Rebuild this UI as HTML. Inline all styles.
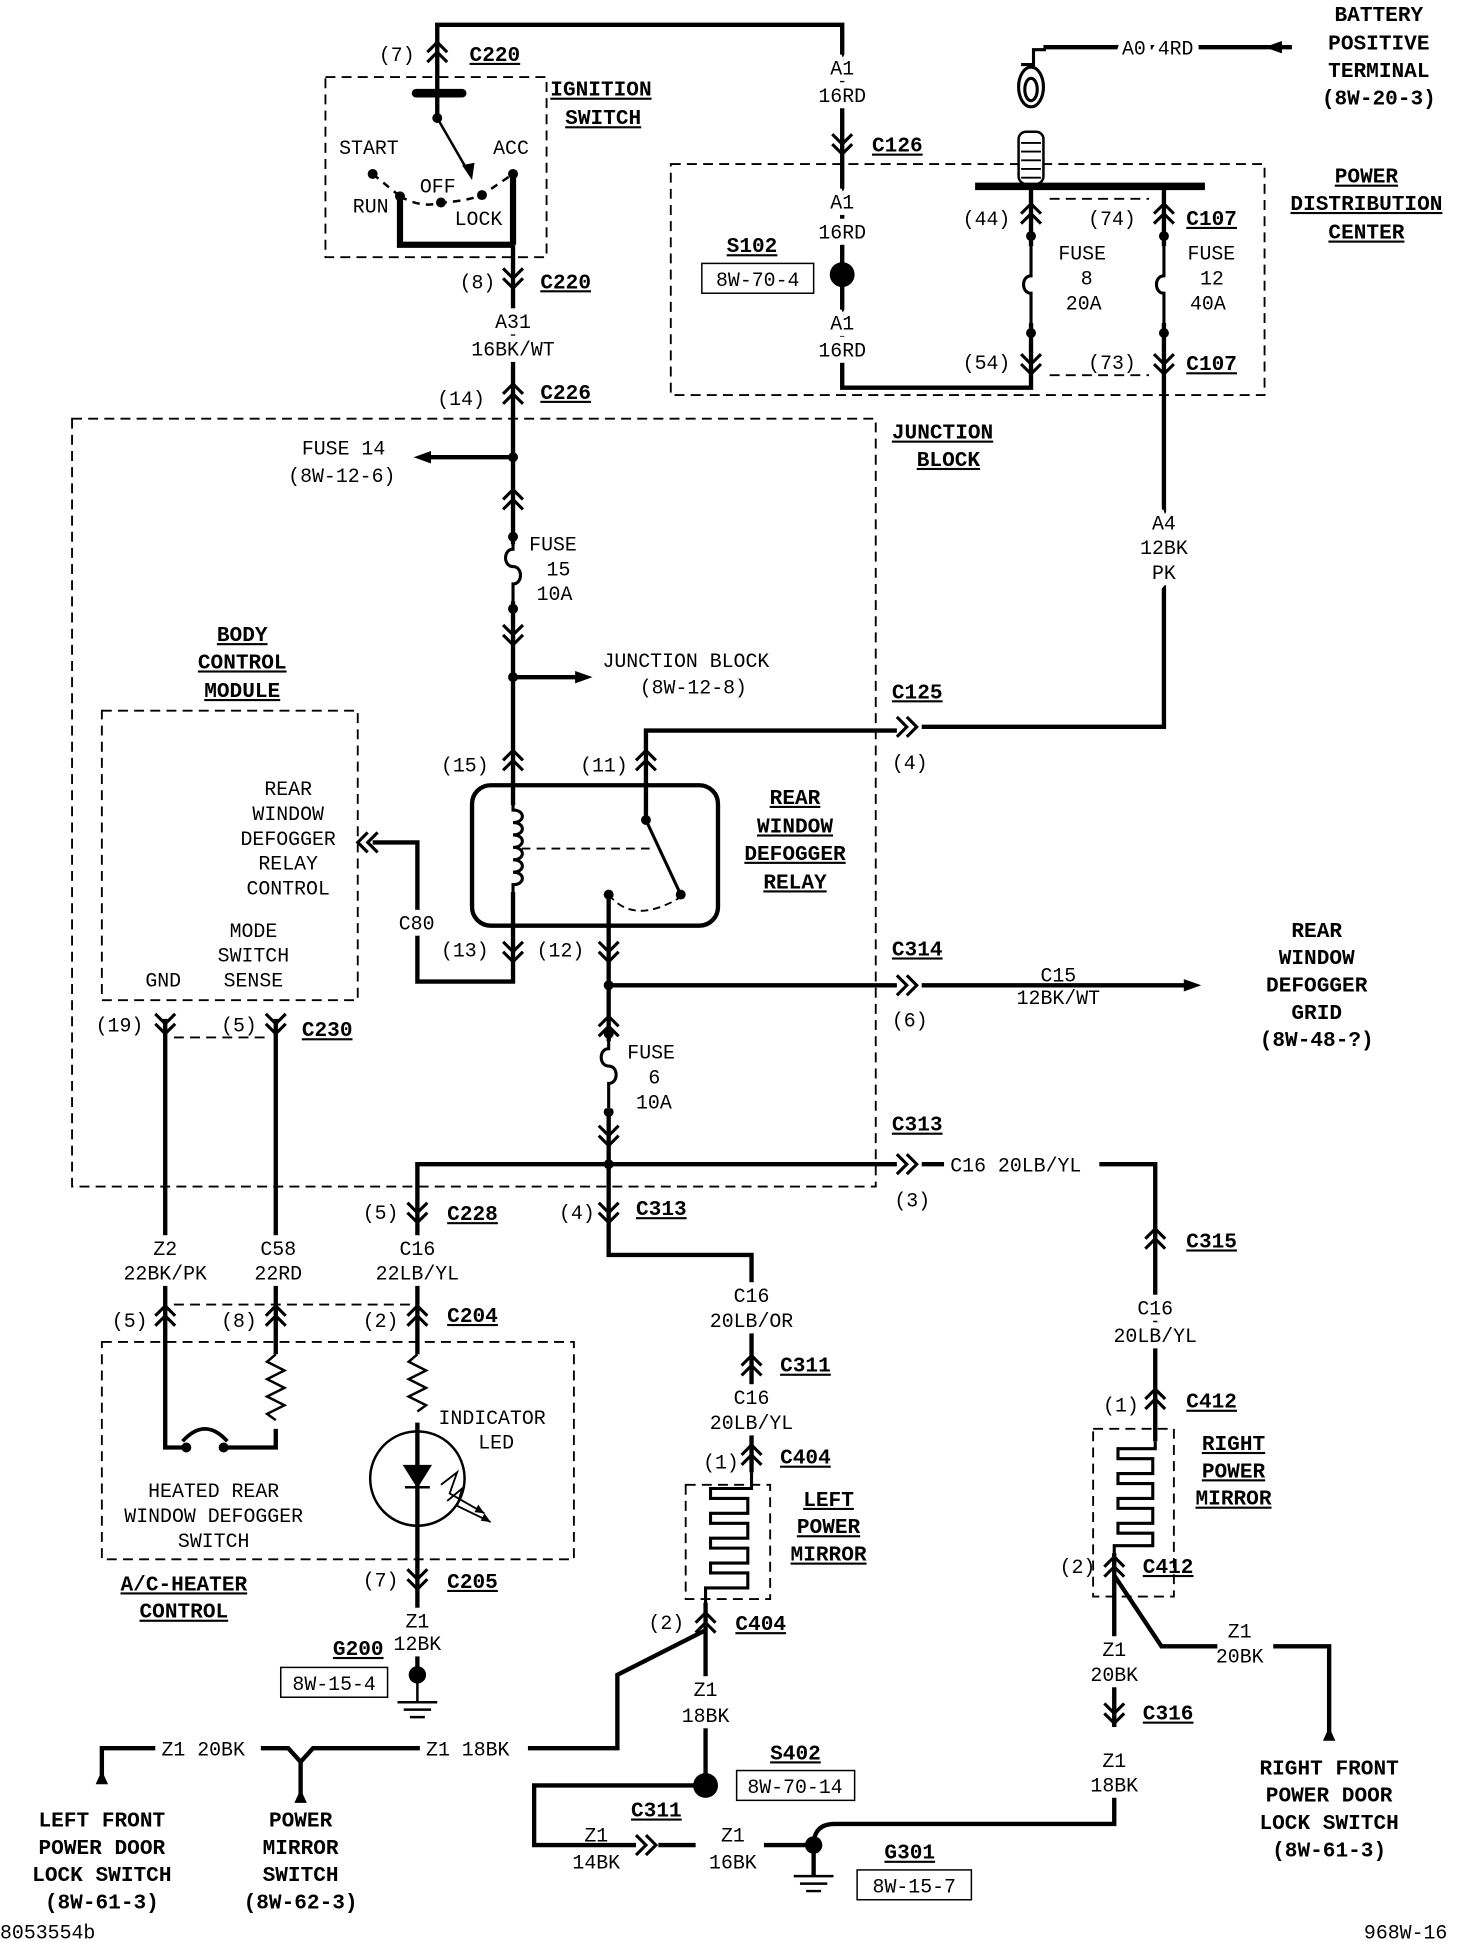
<!DOCTYPE html>
<html><head><meta charset="utf-8"><style>
html,body{margin:0;padding:0;background:#fff}
svg{display:block}
text{font-family:"Liberation Mono",monospace;font-size:16px;fill:#000}
.b{font-weight:bold;font-size:17px;text-decoration:underline}
.bb{font-weight:bold;font-size:17px}
.c{text-anchor:middle}
.h{paint-order:stroke;stroke:#fff;stroke-width:10px}
.w{fill:none;stroke:#000;stroke-width:3.5;stroke-linejoin:miter}
.d{fill:none;stroke:#000;stroke-width:1.5;stroke-dasharray:8 5}
</style></head><body>
<svg width="1472" height="1942" viewBox="0 0 1185 1563" preserveAspectRatio="none" xmlns="http://www.w3.org/2000/svg">
<defs>
<g id="vu"><path d="M-8,4 L0,-4 L8,4 M-8,12 L0,4 L8,12" fill="none" stroke="#000" stroke-width="2.5"/></g>
<g id="vd"><path d="M-8,-4 L0,4 L8,-4 M-8,-12 L0,-4 L8,-12" fill="none" stroke="#000" stroke-width="2.5"/></g>
<g id="hr"><path d="M-6,-8 L2,0 L-6,8 M2,-8 L10,0 L2,8" fill="none" stroke="#000" stroke-width="2.5"/></g>
<g id="hl"><path d="M6,-8 L-2,0 L6,8 M-2,-8 L-10,0 L-2,8" fill="none" stroke="#000" stroke-width="2.5"/></g>
</defs>

<rect x="262" y="62" width="178" height="145" class="d"/>
<rect x="540" y="132" width="478" height="186" class="d"/>
<rect x="58" y="337" width="647" height="618" class="d"/>
<rect x="82" y="572" width="206" height="233" class="d"/>
<rect x="82" y="1080" width="380" height="175" class="d"/>
<rect x="552" y="1195" width="68" height="92" class="d"/>
<rect x="880" y="1150" width="65" height="135" class="d"/>
<path d="M845,160 H925 M845,302 H925 M140,835 H215 M140,1050 H330" class="d"/>

<path class="w" d="M352,95 V20 H678 V221"/>
<path class="w" d="M678,221 V312 H830 V150 M937,150 V585 H742"/>
<path d="M322,158 V197 H413 M413,140 V197" fill="none" stroke="#000" stroke-width="5"/>
<path class="w" d="M413,197 V790 H336 V678 H300"/>
<path class="w" d="M413,368 H345 M413,545 H465"/>
<path class="w" d="M520,660 V588 H722"/>
<path class="w" d="M490,720 V985 V1010 H605 V1185"/>
<path class="w" d="M490,793 H722 M742,793 H955"/>
<path class="w" d="M490,937 H336 V985 M490,937 H722 M742,937 H760 M885,937 H930 V1160"/>
<path class="w" d="M133,820 V1165 H150 M180,1165 H222 V1150 M222,1090 V820"/>
<path class="w" d="M336,985 V1090 M336,1145 V1348"/>
<path class="w" d="M568,1290 V1437 M568,1312 L497,1348 V1407 H425"/>
<path class="w" d="M82,1430 V1407 H125 M210,1407 H232 L242,1418 L252,1407 H338 M242,1418 V1445"/>
<path class="w" d="M568,1437 H430 V1485 H512 M530,1485 H560 M615,1485 H655 V1510 M655,1485 Q655,1468 672,1468 H897 V1445"/>
<path class="w" d="M897,1250 V1390 M897,1268 L935,1325 H980 M1025,1325 H1070 V1395"/>
<path class="w" d="M840,38 H1040"/>
<line x1="785" y1="150" x2="970" y2="150" stroke="#000" stroke-width="6"/>

<path d="M333,368 L347,363 L347,373 Z M477,545 L463,540 L463,550 Z M967,793 L953,788 L953,798 Z M1018,38 L1032,33 L1032,43 Z M82,1425 L77,1436 L87,1436 Z M242,1440 L237,1451 L247,1451 Z M1070,1390 L1065,1401 L1075,1401 Z M380,145 L372,133 L382,131 Z"/>

<use href="#vu" x="352" y="38"/>
<use href="#vd" x="413" y="228"/>
<use href="#vu" x="413" y="313"/>
<use href="#vd" x="678" y="120"/>
<use href="#vu" x="413" y="398"/>
<use href="#vd" x="413" y="515"/>
<use href="#vu" x="413" y="608"/>
<use href="#vu" x="520" y="608"/>
<use href="#vd" x="413" y="770"/>
<use href="#vd" x="490" y="770"/>
<use href="#vu" x="490" y="822"/>
<use href="#vd" x="490" y="918"/>
<use href="#vd" x="336" y="980"/>
<use href="#vd" x="490" y="980"/>
<use href="#vd" x="133" y="828"/>
<use href="#vd" x="222" y="828"/>
<use href="#vu" x="133" y="1055"/>
<use href="#vu" x="222" y="1055"/>
<use href="#vu" x="336" y="1055"/>
<use href="#vd" x="336" y="1275"/>
<use href="#vu" x="605" y="1095"/>
<use href="#vu" x="605" y="1167"/>
<use href="#vu" x="568" y="1302"/>
<use href="#vu" x="930" y="993"/>
<use href="#vu" x="930" y="1122"/>
<use href="#vu" x="897" y="1257"/>
<use href="#vd" x="897" y="1383"/>
<use href="#vu" x="830" y="168"/>
<use href="#vu" x="937" y="168"/>
<use href="#vd" x="830" y="297"/>
<use href="#vd" x="937" y="297"/>
<use href="#hr" x="728" y="585"/>
<use href="#hr" x="728" y="793"/>
<use href="#hr" x="728" y="937"/>
<use href="#hr" x="518" y="1485"/>
<use href="#hl" x="298" y="678"/>

<g>
<circle cx="352" cy="95" r="4"/><circle cx="300" cy="140" r="4"/><circle cx="322" cy="158" r="4"/>
<circle cx="355" cy="163" r="4"/><circle cx="388" cy="157" r="4"/><circle cx="413" cy="140" r="4"/>
<circle cx="413" cy="368" r="4"/><circle cx="413" cy="545" r="4"/><circle cx="413" cy="432" r="4"/><circle cx="413" cy="490" r="4"/>
<circle cx="520" cy="660" r="4"/><circle cx="548" cy="720" r="4"/><circle cx="490" cy="720" r="4"/>
<circle cx="490" cy="793" r="4"/><circle cx="490" cy="832" r="4"/><circle cx="490" cy="895" r="4"/><circle cx="490" cy="937" r="4"/>
<circle cx="830" cy="190" r="4"/><circle cx="830" cy="268" r="4"/><circle cx="937" cy="190" r="4"/><circle cx="937" cy="268" r="4"/>
<circle cx="678" cy="221" r="10"/><circle cx="568" cy="1437" r="10"/>
<circle cx="336" cy="1348" r="7"/><circle cx="655" cy="1485" r="7"/>
<circle cx="150" cy="1165" r="4"/><circle cx="180" cy="1165" r="4"/>
</g>

<line x1="335" y1="75" x2="372" y2="75" stroke="#000" stroke-width="7" stroke-linecap="round"/>
<line x1="352" y1="95" x2="378" y2="140" stroke="#000" stroke-width="2"/>
<path d="M300,140 L322,158 M322,158 Q340,168 355,163 Q375,162 388,157 L413,140" fill="none" stroke="#000" stroke-width="2" stroke-dasharray="6 5"/>

<rect x="408" y="438" width="10" height="46" fill="#fff"/>
<path d="M413,436 V442 c-8,0 -8,14 0,14 c8,0 8,14 0,14 V486" fill="none" stroke="#000" stroke-width="2.5"/>
<rect x="485" y="838" width="10" height="54" fill="#fff"/>
<path d="M490,836 V844 c-8,0 -8,14 0,14 c8,0 8,14 0,14 V892" fill="none" stroke="#000" stroke-width="2.5"/>
<rect x="825" y="198" width="10" height="62" fill="#fff"/>
<rect x="932" y="198" width="10" height="62" fill="#fff"/>
<path d="M830,194 V222 c-8,0 -8,14 0,14 V264 M937,194 V222 c-8,0 -8,14 0,14 V264" fill="none" stroke="#000" stroke-width="2.5"/>

<rect x="380" y="632" width="198" height="113" rx="15" fill="none" stroke="#000" stroke-width="3.5"/>
<rect x="408" y="648" width="12" height="70" fill="#fff"/>
<path d="M413,645 V652 c10,0 10,10 0,10 c10,0 10,10 0,10 c10,0 10,10 0,10 c10,0 10,10 0,10 c10,0 10,10 0,10 c10,0 10,10 0,10 V722" fill="none" stroke="#000" stroke-width="2.5"/>
<line x1="420" y1="683" x2="525" y2="683" stroke="#000" stroke-width="1.5" stroke-dasharray="7 5"/>
<line x1="520" y1="660" x2="548" y2="720" stroke="#000" stroke-width="2.5"/>
<path d="M490,720 Q510,745 548,722" fill="none" stroke="#000" stroke-width="1.5" stroke-dasharray="6 4"/>

<path d="M822,52 H832 V40 H842 M820,70 a10,16 0 1,0 20,0 a10,16 0 1,0 -20,0 M825,72 a5,9 0 1,0 10,0 a5,9 0 1,0 -10,0" fill="none" stroke="#000" stroke-width="2.5"/>
<rect x="820" y="106" width="20" height="42" rx="6" fill="#fff" stroke="#000" stroke-width="2"/>
<path d="M822,115 H838 M822,122 H838 M822,129 H838 M822,136 H838 M822,143 H838" stroke="#000" stroke-width="1.5"/>

<path d="M605,1185 V1198 H572 V1206 H602 V1218 H572 V1226 H602 V1238 H572 V1246 H602 V1258 H572 V1266 H602 V1278 H568 V1295" fill="none" stroke="#000" stroke-width="2.5"/>
<path d="M930,1160 V1166 H900 V1174 H928 V1186 H900 V1194 H928 V1206 H900 V1214 H928 V1226 H900 V1234 H928 V1244 H897 V1252" fill="none" stroke="#000" stroke-width="2.5"/>

<path d="M147,1160 Q165,1140 183,1160" fill="none" stroke="#000" stroke-width="3"/>
<path d="M222,1090 l-7,6 l14,7 l-14,7 l14,7 l-14,7 l14,7 l-14,7 l7,5" fill="none" stroke="#000" stroke-width="2"/>
<path d="M336,1090 l-7,6 l14,7 l-14,7 l14,7 l-14,7 l14,7 l-7,5" fill="none" stroke="#000" stroke-width="2"/>
<circle cx="336" cy="1190" r="38" fill="none" stroke="#000" stroke-width="2"/>
<path d="M326,1180 H346 L336,1196 Z M326,1197 H346" stroke="#000" stroke-width="2"/>
<path d="M355,1195 L368,1185 L362,1202 L390,1218 M360,1208 L372,1198 L368,1212 L395,1225" fill="none" stroke="#000" stroke-width="1.5"/>
<path d="M390,1218 l-8,-1 l3,-6 Z M395,1225 l-8,-1 l3,-6 Z"/>

<path d="M336,1348 V1370 M320,1370 H352 M325,1376 H347 M330,1382 H342 M639,1510 H671 M644,1516 H666 M649,1522 H661" stroke="#000" stroke-width="2"/>

<g fill="none" stroke="#000" stroke-width="1.2">
<rect x="565" y="212" width="90" height="24"/>
<rect x="226" y="1342" width="86" height="24"/>
<rect x="593" y="1425" width="95" height="24"/>
<rect x="690" y="1505" width="92" height="24"/>
</g>

<text x="305" y="49">(7)</text><text x="378" y="49" class="b">C220</text>
<text x="443" y="77" class="b">IGNITION</text><text x="455" y="100" class="b">SWITCH</text>
<text x="273" y="124">START</text><text x="397" y="124">ACC</text><text x="284" y="171">RUN</text>
<text x="338" y="155">OFF</text><text x="366" y="181">LOCK</text>
<text x="370" y="232">(8)</text><text x="435" y="232" class="b">C220</text>
<text x="413" y="264" class="c h">A31</text><text x="413" y="286" class="c h">16BK/WT</text>
<text x="352" y="326">(14)</text><text x="435" y="321" class="b">C226</text>
<text x="718" y="353" class="b">JUNCTION</text><text x="738" y="375" class="b">BLOCK</text>
<text x="243" y="366">FUSE 14</text><text x="232" y="388">(8W-12-6)</text>
<text x="426" y="443">FUSE</text><text x="440" y="463">15</text><text x="432" y="483">10A</text>
<text x="485" y="537">JUNCTION BLOCK</text><text x="515" y="558">(8W-12-8)</text>
<text x="355" y="621">(15)</text><text x="467" y="621">(11)</text>
<text x="718" y="562" class="b">C125</text><text x="718" y="619">(4)</text>
<text x="640" y="647" class="c b">REAR</text><text x="640" y="670" class="c b">WINDOW</text><text x="640" y="692" class="c b">DEFOGGER</text><text x="640" y="715" class="c b">RELAY</text>
<text x="195" y="516" class="c b">BODY</text><text x="195" y="538" class="c b">CONTROL</text><text x="195" y="561" class="c b">MODULE</text>
<text x="232" y="640" class="c">REAR</text><text x="232" y="660" class="c">WINDOW</text><text x="232" y="680" class="c">DEFOGGER</text><text x="232" y="700" class="c">RELAY</text><text x="232" y="720" class="c">CONTROL</text>
<text x="204" y="754" class="c">MODE</text><text x="204" y="774" class="c">SWITCH</text><text x="204" y="794" class="c">SENSE</text><text x="117" y="794">GND</text>
<text x="321" y="748" class="h">C80</text>
<text x="355" y="770">(13)</text><text x="432" y="770">(12)</text>
<text x="718" y="769" class="b">C314</text><text x="718" y="826">(6)</text>
<text x="852" y="790" class="c">C15</text><text x="852" y="808" class="c">12BK/WT</text>
<text x="1060" y="754" class="c bb">REAR</text><text x="1060" y="776" class="c bb">WINDOW</text><text x="1060" y="798" class="c bb">DEFOGGER</text><text x="1060" y="820" class="c bb">GRID</text><text x="1060" y="842" class="c bb">(8W-48-?)</text>
<text x="505" y="852">FUSE</text><text x="522" y="872">6</text><text x="512" y="892">10A</text>
<text x="77" y="830">(19)</text><text x="178" y="830">(5)</text><text x="243" y="834" class="b">C230</text>
<text x="718" y="910" class="b">C313</text><text x="720" y="971">(3)</text><text x="765" y="943">C16 20LB/YL</text>
<text x="292" y="981">(5)</text><text x="360" y="982" class="b">C228</text>
<text x="450" y="981">(4)</text><text x="512" y="978" class="b">C313</text>
<text x="133" y="1010" class="c h">Z2</text><text x="133" y="1030" class="c h">22BK/PK</text>
<text x="224" y="1010" class="c h">C58</text><text x="224" y="1030" class="c h">22RD</text>
<text x="336" y="1010" class="c h">C16</text><text x="336" y="1030" class="c h">22LB/YL</text>
<text x="90" y="1068">(5)</text><text x="178" y="1068">(8)</text><text x="292" y="1068">(2)</text><text x="360" y="1064" class="b">C204</text>
<text x="353" y="1146">INDICATOR</text><text x="385" y="1166">LED</text>
<text x="172" y="1205" class="c">HEATED REAR</text><text x="172" y="1225" class="c">WINDOW DEFOGGER</text><text x="172" y="1245" class="c">SWITCH</text>
<text x="292" y="1277">(7)</text><text x="360" y="1278" class="b">C205</text>
<text x="148" y="1280" class="c b">A/C-HEATER</text><text x="148" y="1302" class="c b">CONTROL</text>
<text x="336" y="1310" class="c h">Z1</text><text x="336" y="1328" class="c h">12BK</text>
<text x="268" y="1332" class="b">G200</text><text x="269" y="1360" class="c">8W-15-4</text>
<text x="605" y="1048" class="c h">C16</text><text x="605" y="1068" class="c h">20LB/OR</text>
<text x="628" y="1104" class="b">C311</text>
<text x="605" y="1130" class="c h">C16</text><text x="605" y="1150" class="c h">20LB/YL</text>
<text x="566" y="1182">(1)</text><text x="628" y="1178" class="b">C404</text>
<text x="667" y="1212" class="c b">LEFT</text><text x="667" y="1234" class="c b">POWER</text><text x="667" y="1256" class="c b">MIRROR</text>
<text x="522" y="1311">(2)</text><text x="592" y="1312" class="b">C404</text>
<text x="568" y="1365" class="c h">Z1</text><text x="568" y="1386" class="c h">18BK</text>
<text x="343" y="1413">Z1 18BK</text><text x="130" y="1413">Z1 20BK</text>
<text x="82" y="1470" class="c bb">LEFT FRONT</text><text x="82" y="1492" class="c bb">POWER DOOR</text><text x="82" y="1514" class="c bb">LOCK SWITCH</text><text x="82" y="1536" class="c bb">(8W-61-3)</text>
<text x="242" y="1470" class="c bb">POWER</text><text x="242" y="1492" class="c bb">MIRROR</text><text x="242" y="1514" class="c bb">SWITCH</text><text x="242" y="1536" class="c bb">(8W-62-3)</text>
<text x="620" y="1416" class="b">S402</text><text x="640" y="1443" class="c">8W-70-14</text>
<text x="508" y="1462" class="b">C311</text>
<text x="480" y="1482" class="c">Z1</text><text x="480" y="1504" class="c">14BK</text>
<text x="590" y="1482" class="c">Z1</text><text x="590" y="1504" class="c">16BK</text>
<text x="712" y="1496" class="b">G301</text><text x="736" y="1523" class="c">8W-15-7</text>
<text x="0" y="1560">8053554b</text><text x="1098" y="1560">968W-16</text>
<text x="955" y="1004" class="b">C315</text>
<text x="930" y="1058" class="c h">C16</text><text x="930" y="1080" class="c h">20LB/YL</text>
<text x="888" y="1136">(1)</text><text x="955" y="1133" class="b">C412</text>
<text x="993" y="1167" class="c b">RIGHT</text><text x="993" y="1189" class="c b">POWER</text><text x="993" y="1211" class="c b">MIRROR</text>
<text x="853" y="1266">(2)</text><text x="920" y="1266" class="b">C412</text>
<text x="998" y="1318" class="c">Z1</text><text x="998" y="1338" class="c">20BK</text>
<text x="897" y="1333" class="c h">Z1</text><text x="897" y="1353" class="c h">20BK</text>
<text x="920" y="1384" class="b">C316</text>
<text x="897" y="1422" class="c h">Z1</text><text x="897" y="1442" class="c h">18BK</text>
<text x="1070" y="1428" class="c bb">RIGHT FRONT</text><text x="1070" y="1450" class="c bb">POWER DOOR</text><text x="1070" y="1472" class="c bb">LOCK SWITCH</text><text x="1070" y="1494" class="c bb">(8W-61-3)</text>
<text x="678" y="60" class="c h">A1</text><text x="678" y="82" class="c h">16RD</text>
<text x="702" y="122" class="b">C126</text>
<text x="678" y="168" class="c h">A1</text><text x="678" y="192" class="c h">16RD</text>
<text x="585" y="203" class="b">S102</text><text x="610" y="230" class="c">8W-70-4</text>
<text x="678" y="265" class="c h">A1</text><text x="678" y="287" class="c h">16RD</text>
<text x="932" y="44" class="c h">A0 4RD</text>
<text x="1110" y="17" class="c bb">BATTERY</text><text x="1110" y="40" class="c bb">POSITIVE</text><text x="1110" y="62" class="c bb">TERMINAL</text><text x="1110" y="84" class="c bb">(8W-20-3)</text>
<text x="1100" y="147" class="c b">POWER</text><text x="1100" y="169" class="c b">DISTRIBUTION</text><text x="1100" y="192" class="c b">CENTER</text>
<text x="775" y="181">(44)</text><text x="876" y="181">(74)</text><text x="955" y="181" class="b">C107</text>
<text x="852" y="209">FUSE</text><text x="870" y="229">8</text><text x="858" y="249">20A</text>
<text x="956" y="209">FUSE</text><text x="966" y="229">12</text><text x="958" y="249">40A</text>
<text x="775" y="297">(54)</text><text x="876" y="297">(73)</text><text x="955" y="298" class="b">C107</text>
<text x="937" y="426" class="c h">A4</text><text x="937" y="446" class="c h">12BK</text><text x="937" y="466" class="c h">PK</text>
</svg>
</body></html>
